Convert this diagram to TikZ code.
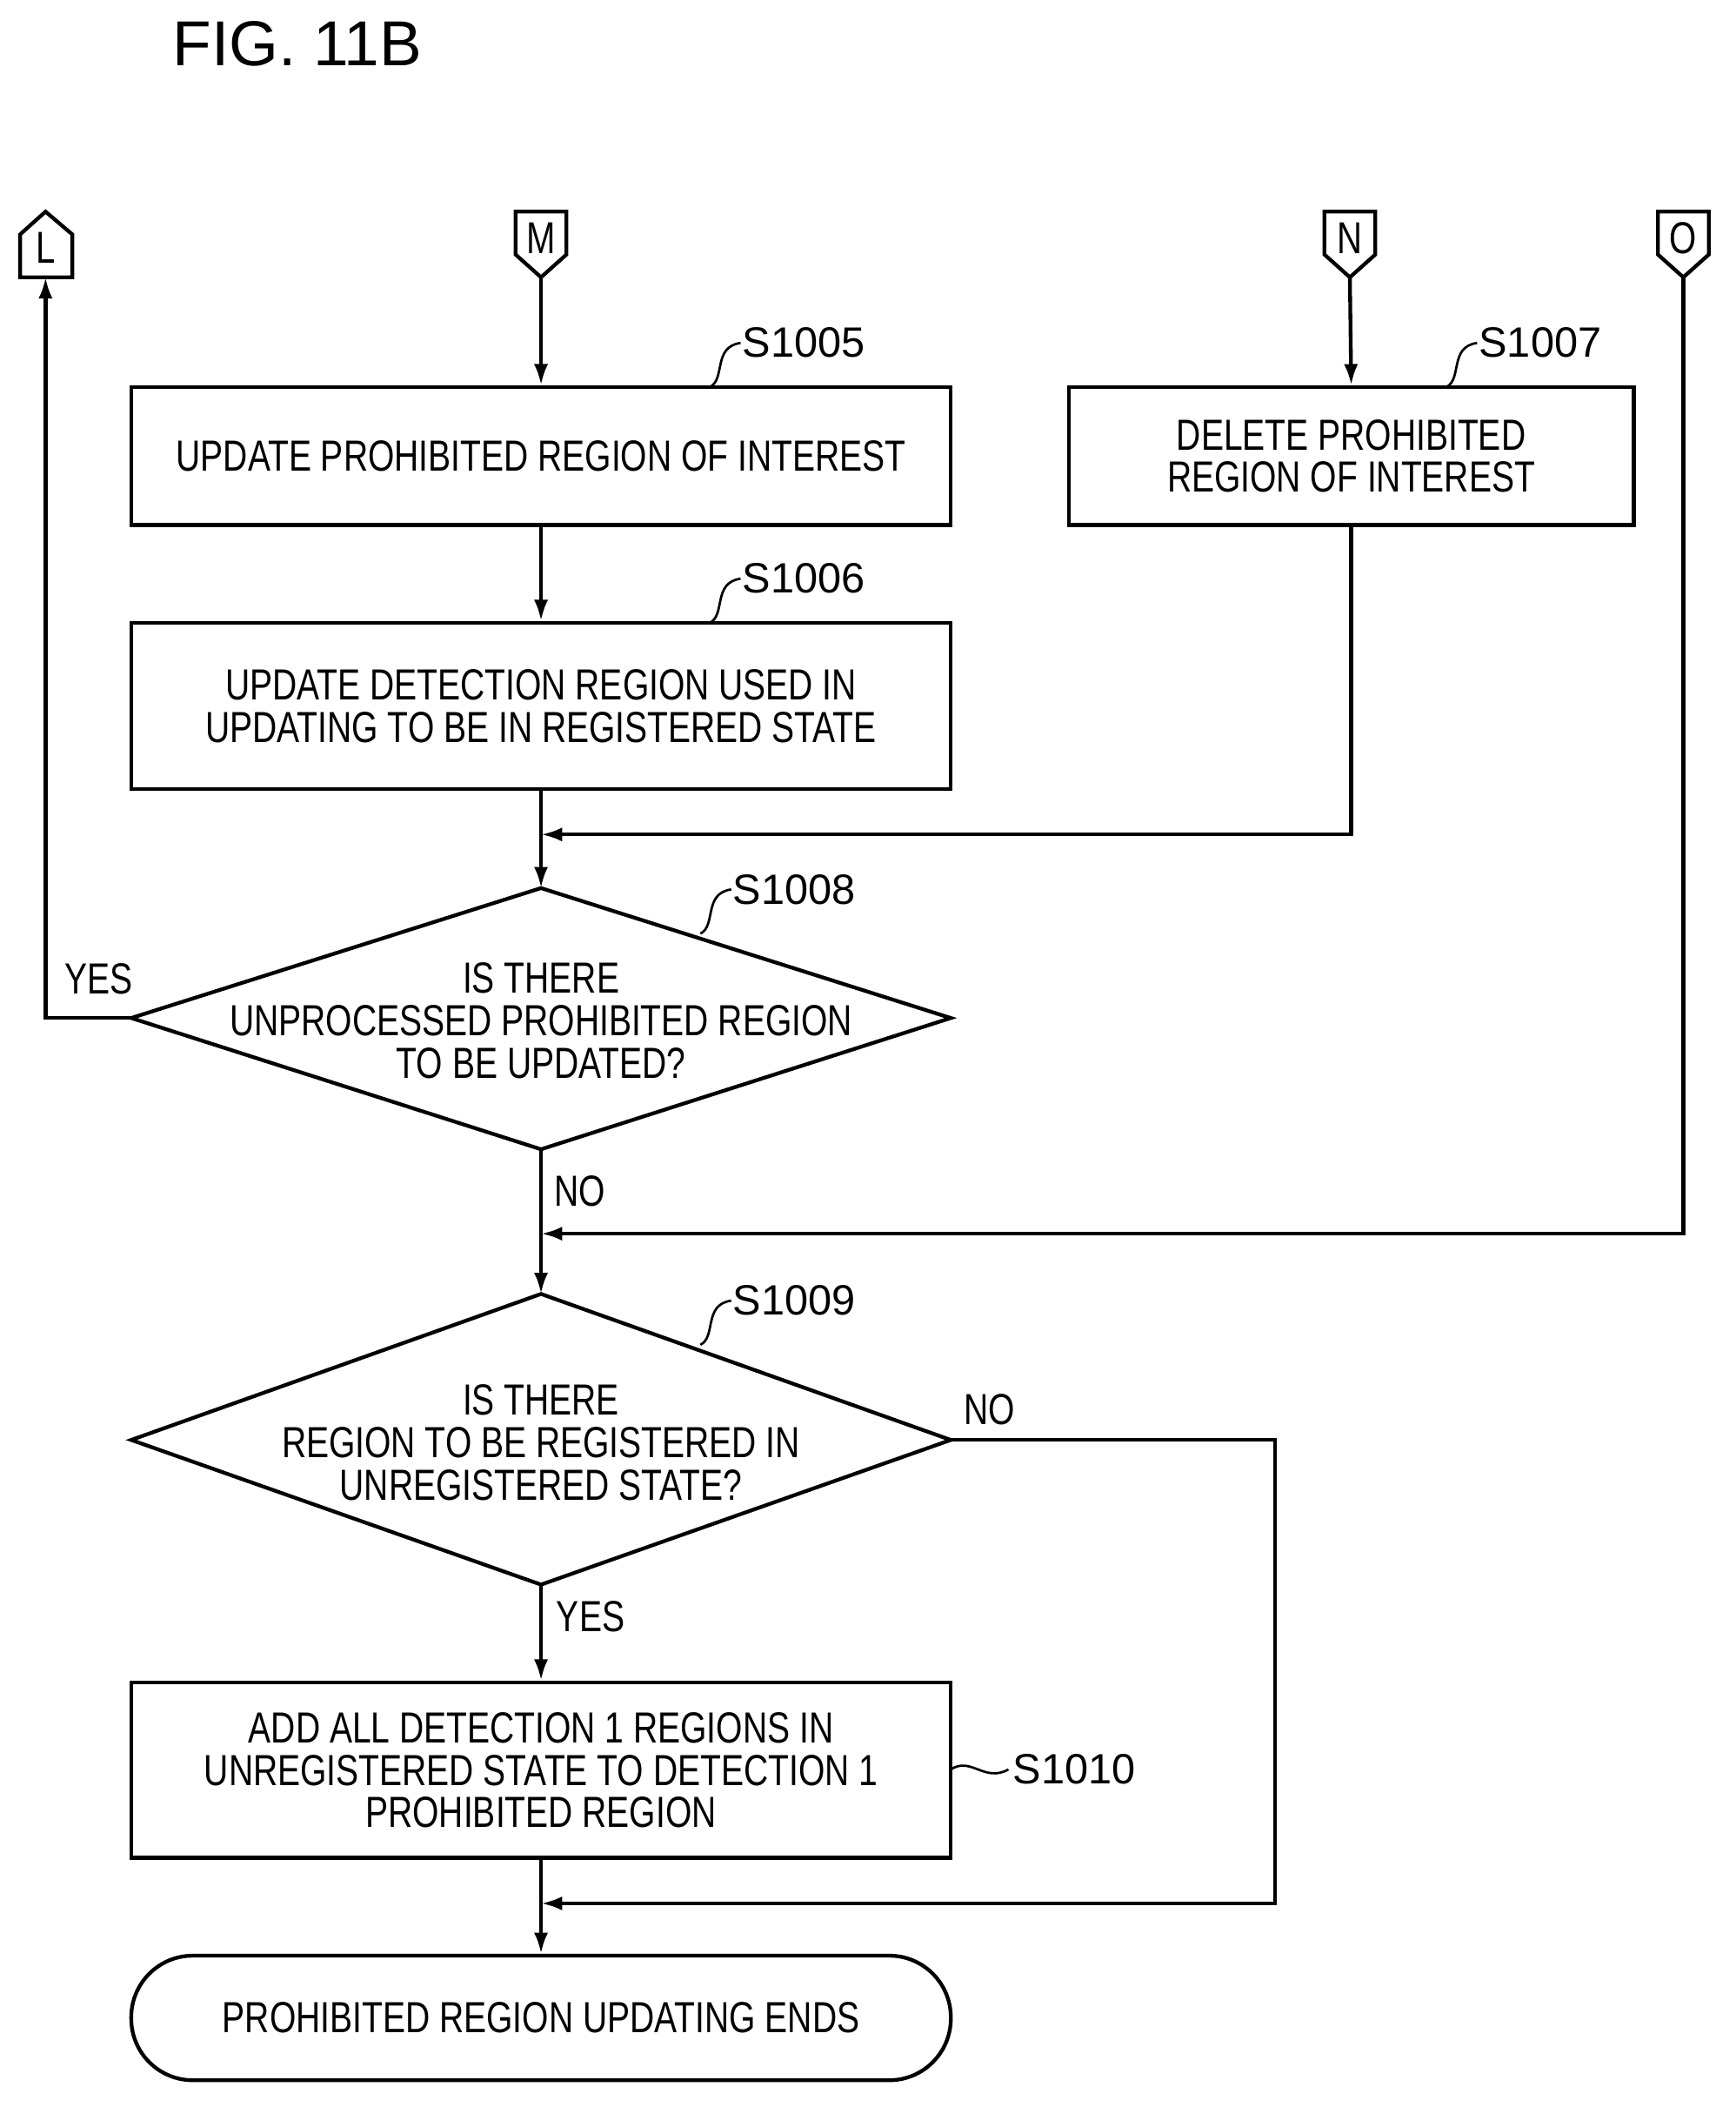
\documentclass[tikz,border=0pt]{standalone}
\usepackage{fontspec}
\usetikzlibrary{arrows.meta}
\setmainfont{Liberation Sans}
\newfontfamily\cond{Liberation Sans}[FakeStretch=0.78]
\begin{document}
\begin{tikzpicture}[x=0.02cm,y=-0.02cm,line width=1.6pt,
  box/.style={draw,rectangle,align=center,font=\cond\fontsize{18.5}{18}\selectfont,inner sep=0pt},
  lab/.style={font=\fontsize{18}{20}\selectfont,inner sep=0pt},
  arr/.style={-{Latex[length=9pt,width=6pt]}},
  sq/.style={line width=1pt}]
\useasboundingbox (0,0) rectangle (1296,1573);
\node[font=\fontsize{27}{30}\selectfont,inner sep=0pt] (title) at (222,33) {FIG. 11B};
% off-page connectors
\draw (15,207)--(54,207)--(54,175)--(34,158)--(15,175)--cycle;
\node[font=\cond\fontsize{19}{20}\selectfont,inner sep=0pt] (L) at (34,185) {L};
\coordinate (Lb) at (34,207);
\foreach \x/\t in {404/M,1008/N,1257/O}{
  \draw (\x-19,158)--(\x+19,158)--(\x+19,190)--(\x,207)--(\x-19,190)--cycle;
  \node[font=\cond\fontsize{19}{20}\selectfont,inner sep=0pt] (\t) at (\x,178) {\t};
  \coordinate (\t b) at (\x,207);
}
% boxes
\node[box,minimum width=612*0.02cm,minimum height=103*0.02cm] (s1005) at (404,340.5) {UPDATE PROHIBITED REGION OF INTEREST};
\node[box,minimum width=422*0.02cm,minimum height=103*0.02cm] (s1007) at (1009,340.5) {DELETE PROHIBITED\\REGION OF INTEREST};
\node[box,minimum width=612*0.02cm,minimum height=124*0.02cm] (s1006) at (404,527) {UPDATE DETECTION REGION USED IN\\UPDATING TO BE IN REGISTERED STATE};
\node[box,minimum width=612*0.02cm,minimum height=131*0.02cm] (s1010) at (404,1321.5) {ADD ALL DETECTION 1 REGIONS IN\\UNREGISTERED STATE TO DETECTION 1\\PROHIBITED REGION};
\node[box,rounded corners=46*0.02cm,minimum width=612*0.02cm,minimum height=93*0.02cm] (end) at (404,1506.5) {PROHIBITED REGION UPDATING ENDS};
% diamonds
\draw (404,663)--(710,760)--(404,858)--(98,760)--cycle;
\node[box,draw=none] (d1) at (404,762) {IS THERE\\UNPROCESSED PROHIBITED REGION\\TO BE UPDATED?};
\coordinate (d1t) at (404,663); \coordinate (d1l) at (98,760); \coordinate (d1b) at (404,858);
\draw (404,966)--(710,1075)--(404,1183)--(98,1075)--cycle;
\node[box,draw=none] (d2) at (404,1077) {IS THERE\\REGION TO BE REGISTERED IN\\UNREGISTERED STATE?};
\coordinate (d2t) at (404,966); \coordinate (d2r) at (710,1075); \coordinate (d2b) at (404,1183);
% connectors
\draw[arr] (Mb)--(s1005.north);
\draw[arr] (Nb)--(s1007.north);
\draw[arr] (s1005.south)--(s1006.north);
\draw[arr] (s1006.south)--(d1t);
\coordinate (m1) at (404,623);
\draw[arr] (s1007.south)|-(m1);
\draw[arr] (d1l)-|(Lb);
\draw[arr] (d1b)--(d2t);
\coordinate (m2) at (404,921);
\draw[arr] (Ob)|-(m2);
\draw[arr] (d2b)--(s1010.north);
\draw[arr] (s1010.south)--(end.north);
\coordinate (m3) at (404,1421);
\coordinate (rc) at (952,1075);
\draw[arr] (d2r)--(rc)|-(m3);
% labels
\node[lab,font=\cond\fontsize{18.5}{20}\selectfont] (yes1) at (74,731) {YES};
\node[lab,font=\cond\fontsize{18.5}{20}\selectfont] (no1) at (433,889) {NO};
\node[lab,font=\cond\fontsize{18.5}{20}\selectfont] (no2) at (739,1052) {NO};
\node[lab,font=\cond\fontsize{18.5}{20}\selectfont] (yes2) at (441,1207) {YES};
\foreach \n/\x/\y in {S1005/530/289,S1006/530/465,S1008/523/697,S1009/523/1004,S1007/1080/289}{
  \draw[sq] (\x,\y) .. controls (\x+12,\y-6) and (\x+2,\y-30) .. (\x+23,\y-33);
  \node[lab,anchor=west] (\n) at (\x+23,\y-33) {\n};
}
\draw[sq] (710,1321) .. controls (725,1311) and (735,1331) .. (753,1321);
\node[lab,anchor=west] (S1010) at (755,1321) {S1010};
\end{tikzpicture}
\end{document}
